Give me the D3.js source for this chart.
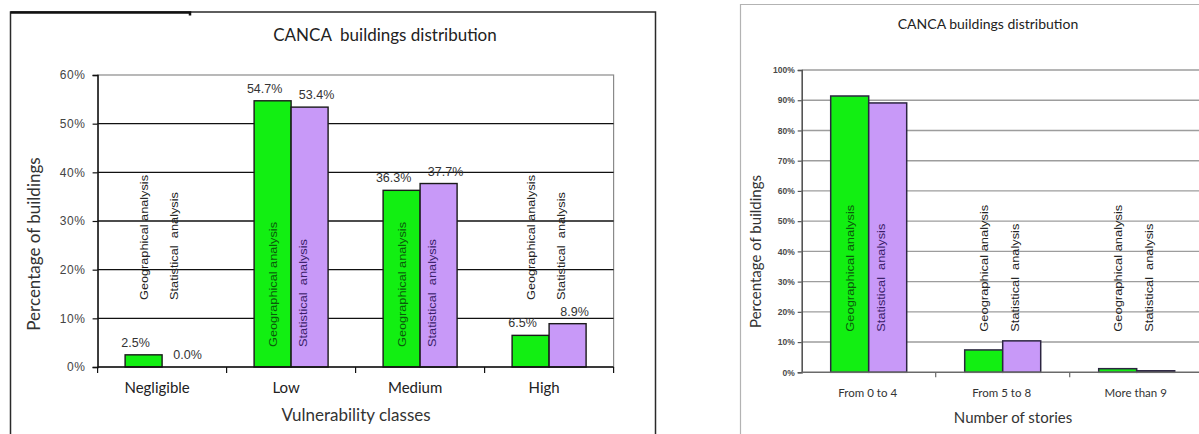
<!DOCTYPE html>
<html>
<head>
<meta charset="utf-8">
<script src="https://cdn.jsdelivr.net/npm/d3@7"></script>
<style>
  html, body { margin: 0; padding: 0; background: #fff; }
  svg { display: block; }
  text { white-space: pre; }
</style>
</head>
<body>
<svg id="chart" width="1199" height="434"></svg>
<script>
// ---- Data -------------------------------------------------------------
const seriesNames = ["Geographical analysis", "Statistical  analysis"];

// Vulnerability classes chart
const vulnClasses = ["Negligible", "Low", "Medium", "High"];
const vulnGeographical = [2.5, 54.7, 36.3, 6.5];
const vulnStatistical = [0.0, 53.4, 37.7, 8.9];
const vulnTicks = [0, 10, 20, 30, 40, 50, 60];

// Number of stories chart
const storyClasses = ["From 0 to 4", "From 5 to 8", "More than 9"];
const storyGeographical = [91.4, 7.4, 1.2];
const storyStatistical = [89.1, 10.4, 0.5];
const storyTicks = [0, 10, 20, 30, 40, 50, 60, 70, 80, 90, 100];

// ---- Styling ----------------------------------------------------------
const GREEN = "#12ef12";
const PURPLE = "#c899f8";
const GREEN_TEXT = "#0b5a0b";
const PURPLE_TEXT = "#3a1d68";
const CAL = "Lato, 'Open Sans', sans-serif";
const ARIAL = "'Liberation Sans', Arial, sans-serif";

const svg = d3.select("#chart");

// ======================================================================
// Left chart: vulnerability classes
// ======================================================================
(function () {
  const g = svg.append("g");
  const rows = vulnClasses.map((c, i) => ({ cat: c, vals: [vulnGeographical[i], vulnStatistical[i]] }));

  // outer frame
  g.append("path")
    .attr("d", "M10.5,440 V12 H655.5 V440")
    .attr("fill", "none").attr("stroke", "#2a2a2a").attr("stroke-width", 1.5);
  g.append("path")
    .attr("d", "M10.5,12.5 H190 v3")
    .attr("fill", "none").attr("stroke", "#111").attr("stroke-width", 2.5);

  const x0 = d3.scaleBand().domain(vulnClasses).range([97.6, 613.6])
    .paddingInner(0.4264).paddingOuter(0.2132);
  const x1 = d3.scaleBand().domain([0, 1]).range([0, x0.bandwidth()]);
  const y = d3.scaleLinear().domain([0, 60]).range([367, 75]);
  const [px0, px1] = x0.range();

  // title
  g.append("text").attr("x", 385).attr("y", 41)
    .attr("text-anchor", "middle").attr("font-family", CAL).attr("font-size", 17)
    .attr("fill", "#222").text("CANCA  buildings distribution");

  // plot border (grey) and gridlines (black)
  g.append("rect").attr("x", px0).attr("y", y(60)).attr("width", px1 - px0).attr("height", y(0) - y(60))
    .attr("fill", "none").attr("stroke", "#8a8a8a").attr("stroke-width", 1.2);
  g.selectAll(".grid").data(vulnTicks.filter(t => t > 0 && t < 60)).join("line")
    .attr("x1", px0).attr("x2", px1).attr("y1", d => y(d)).attr("y2", d => y(d))
    .attr("stroke", "#111").attr("stroke-width", 1.4);

  // y axis
  const yAxis = g.append("g").attr("transform", `translate(${px0},0)`)
    .call(d3.axisLeft(y).tickValues(vulnTicks).tickFormat(d => d + "%").tickSize(5).tickPadding(7));
  yAxis.select(".domain").attr("stroke", "#111").attr("stroke-width", 1.4);
  yAxis.selectAll(".tick line").attr("stroke", "#111").attr("stroke-width", 1.2);
  yAxis.selectAll(".tick text").attr("font-family", ARIAL).attr("font-size", 12)
    .attr("fill", "#444").attr("letter-spacing", 0.6);

  // bars
  const grp = g.selectAll(".grp").data(rows).join("g")
    .attr("transform", d => `translate(${x0(d.cat)},0)`);
  grp.selectAll("rect").data(d => d.vals.map((v, i) => ({ v, i }))).join("rect")
    .attr("x", d => x1(d.i)).attr("width", x1.bandwidth())
    .attr("y", d => y(d.v)).attr("height", d => y(0) - y(d.v))
    .attr("fill", d => d.i === 0 ? GREEN : PURPLE)
    .attr("stroke", "#1a1a1a").attr("stroke-width", 1.4);

  // x axis line with boundary ticks
  g.append("line").attr("x1", px0).attr("x2", px1).attr("y1", y(0)).attr("y2", y(0))
    .attr("stroke", "#111").attr("stroke-width", 1.5);
  const bounds = d3.range(vulnClasses.length + 1).map(i => px0 + i * x0.step());
  g.selectAll(".xt").data(bounds).join("line")
    .attr("x1", d => d).attr("x2", d => d).attr("y1", y(0)).attr("y2", y(0) + 6)
    .attr("stroke", "#111").attr("stroke-width", 1.2);
  const xAxis = g.append("g").attr("transform", `translate(0,${y(0)})`)
    .call(d3.axisBottom(x0).tickSize(0).tickPadding(15));
  xAxis.select(".domain").remove();
  xAxis.selectAll(".tick text").attr("font-family", CAL).attr("font-size", 15)
    .attr("fill", "#222").attr("dx", -5);

  // value labels
  grp.selectAll(".val").data(d => d.vals.map((v, i) => ({ v, i }))).join("text")
    .attr("x", d => x1(d.i) + x1.bandwidth() / 2 + (d.i === 0 ? -8 : 7))
    .attr("y", d => y(d.v) - 8)
    .attr("text-anchor", "middle").attr("font-family", ARIAL).attr("font-size", 12.5)
    .attr("fill", "#333").text(d => d.v.toFixed(1) + "%");

  // series names, rotated
  grp.selectAll(".sname").data(d => d.vals.map((v, i) => ({ v, i }))).join("text")
    .attr("transform", d => {
      const inside = d.v > 20;
      const by = inside ? y(0) - 20 : y(0) - 67;
      const bx = x1(d.i) + x1.bandwidth() / 2 + (d.i === 0 ? 4 : -3);
      return `translate(${bx},${by}) rotate(-90)`;
    })
    .attr("font-family", ARIAL).attr("font-size", 11)
    .attr("textLength", d => d.i === 0 ? 125 : 108).attr("lengthAdjust", "spacingAndGlyphs")
    .attr("fill", d => d.v > 20 ? (d.i === 0 ? GREEN_TEXT : PURPLE_TEXT) : "#222")
    .text(d => seriesNames[d.i]);

  // axis titles
  g.append("text").attr("transform", "translate(40,244) rotate(-90)")
    .attr("text-anchor", "middle").attr("font-family", CAL).attr("font-size", 17)
    .attr("fill", "#333").text("Percentage of buildings");
  g.append("text").attr("x", 356).attr("y", 421)
    .attr("text-anchor", "middle").attr("font-family", CAL).attr("font-size", 17)
    .attr("fill", "#333").text("Vulnerability classes");
})();

// ======================================================================
// Right chart: number of stories
// ======================================================================
(function () {
  const g = svg.append("g");
  const rows = storyClasses.map((c, i) => ({ cat: c, vals: [storyGeographical[i], storyStatistical[i]] }));

  // outer frame
  g.append("path").attr("d", "M740.5,440 V4.5 H1210")
    .attr("fill", "none").attr("stroke", "#b3b3b3").attr("stroke-width", 1.2);

  const x0 = d3.scaleBand().domain(storyClasses).range([801.7, 1203.7])
    .paddingInner(0.4328).paddingOuter(0.2164);
  const x1 = d3.scaleBand().domain([0, 1]).range([0, x0.bandwidth()]);
  const y = d3.scaleLinear().domain([0, 100]).range([372.3, 70]);
  const [px0, px1] = x0.range();

  g.append("text").attr("x", 988).attr("y", 29)
    .attr("text-anchor", "middle").attr("font-family", CAL).attr("font-size", 14)
    .attr("fill", "#222").text("CANCA buildings distribution");

  // gridlines
  g.selectAll(".grid").data(storyTicks.filter(t => t > 0)).join("line")
    .attr("x1", px0).attr("x2", px1).attr("y1", d => y(d)).attr("y2", d => y(d))
    .attr("stroke", "#9d9d9d").attr("stroke-width", 1.4);

  const yAxis = g.append("g").attr("transform", `translate(${px0},0)`)
    .call(d3.axisLeft(y).tickValues(storyTicks).tickFormat(d => d + "%").tickSize(4).tickPadding(3));
  yAxis.select(".domain").attr("stroke", "#555").attr("stroke-width", 1.6);
  yAxis.selectAll(".tick line").attr("stroke", "#555").attr("stroke-width", 1.2);
  yAxis.selectAll(".tick text").attr("font-family", ARIAL).attr("font-size", 8.5)
    .attr("font-weight", "bold").attr("fill", "#4a4a4a");

  const grp = g.selectAll(".grp").data(rows).join("g")
    .attr("transform", d => `translate(${x0(d.cat)},0)`);
  grp.selectAll("rect").data(d => d.vals.map((v, i) => ({ v, i }))).join("rect")
    .attr("x", d => x1(d.i)).attr("width", x1.bandwidth())
    .attr("y", d => y(d.v)).attr("height", d => y(0) - y(d.v))
    .attr("fill", d => d.i === 0 ? GREEN : PURPLE)
    .attr("stroke", "#2b2540").attr("stroke-width", 1.5);

  g.append("line").attr("x1", px0).attr("x2", px1).attr("y1", y(0)).attr("y2", y(0))
    .attr("stroke", "#6a6a6a").attr("stroke-width", 1.6);
  const bounds = d3.range(1, storyClasses.length).map(i => px0 + i * x0.step());
  g.selectAll(".xt").data(bounds).join("line")
    .attr("x1", d => d).attr("x2", d => d).attr("y1", y(0)).attr("y2", y(0) + 5)
    .attr("stroke", "#6a6a6a").attr("stroke-width", 1.2);
  const xAxis = g.append("g").attr("transform", `translate(0,${y(0)})`)
    .call(d3.axisBottom(x0).tickSize(0).tickPadding(17));
  xAxis.select(".domain").remove();
  xAxis.selectAll(".tick text").attr("font-family", CAL).attr("font-size", 11.5)
    .attr("fill", "#333").attr("dx", -1);

  grp.selectAll(".sname").data(d => d.vals.map((v, i) => ({ v, i }))).join("text")
    .attr("transform", d => {
      const bx = x1(d.i) + x1.bandwidth() / 2 + (d.i === 0 ? 0 : -7);
      return `translate(${bx + 4},${y(0) - 40.6}) rotate(-90)`;
    })
    .attr("font-family", ARIAL).attr("font-size", 11)
    .attr("textLength", d => d.i === 0 ? 127 : 108).attr("lengthAdjust", "spacingAndGlyphs")
    .attr("fill", d => d.v > 20 ? (d.i === 0 ? GREEN_TEXT : PURPLE_TEXT) : "#222")
    .text(d => seriesNames[d.i]);

  g.append("text").attr("transform", "translate(761,251.5) rotate(-90)")
    .attr("text-anchor", "middle").attr("font-family", CAL).attr("font-size", 15)
    .attr("fill", "#333").text("Percentage of buildings");
  g.append("text").attr("x", 1013).attr("y", 423)
    .attr("text-anchor", "middle").attr("font-family", CAL).attr("font-size", 15)
    .attr("fill", "#333").text("Number of stories");
})();
</script>
</body>
</html>
